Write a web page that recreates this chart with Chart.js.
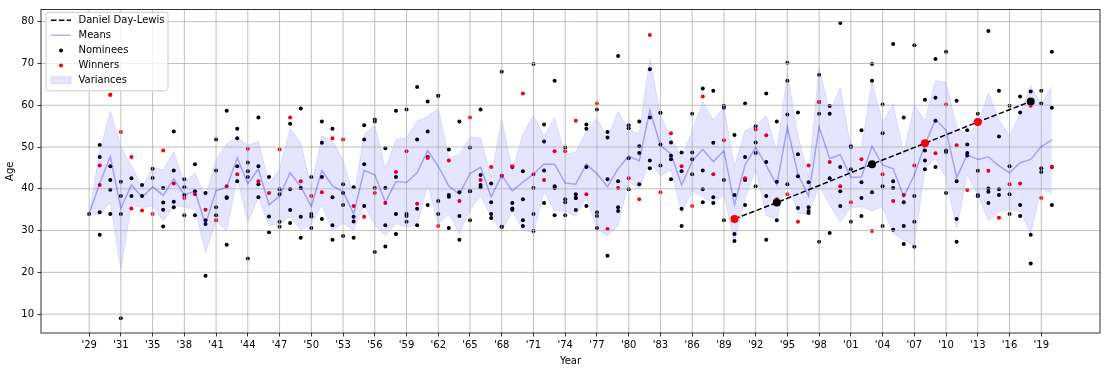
<!DOCTYPE html>
<html>
<head>
<meta charset="utf-8">
<script src="https://cdn.jsdelivr.net/npm/chart.js@4.4.1/dist/chart.umd.min.js"></script>
<style>
  html, body { margin: 0; padding: 0; background: #fff; }
  #wrap { width: 1108px; height: 371px; }
</style>
</head>
<body>
<div id="wrap"><canvas id="chart" width="1108" height="371"></canvas></div>
<script>
// x tick labels, one for every third ceremony (index 0, 3, 6, ...)
const tickLabels = ["'29","'31","'35","'38","'41","'44","'47","'50","'53","'56","'59","'62","'65","'68","'71","'74",
    "'77","'80","'83","'86","'89","'92","'95","'98","'01","'04","'07","'10","'13","'16","'19"];
const ageTicks = [10, 20, 30, 40, 50, 60, 70, 80];

// ages of the nominees who did not win, one list per ceremony
const nominees = [
    [34.0], [50.5, 47.6, 34.4, 29.0], [45.4, 42.1, 39.8, 34.0], [41.7, 38.3, 34.0, 9.0], [42.5, 38.3],
    [40.9, 38.3], [44.8, 42.6], [40.2, 36.7, 35.0, 31.0], [53.7, 44.4, 36.9, 35.6], [42.3, 40.4, 38.5, 33.7],
    [45.9, 39.4, 33.7], [39.0, 32.5, 31.6, 19.2], [51.8, 44.4, 35.6, 33.7], [58.7, 38.0, 37.8, 26.6], [54.4, 52.1, 45.4, 41.8],
    [46.3, 44.2, 42.8, 23.3], [57.1, 45.4, 41.1, 38.0], [42.8, 33.4, 29.6], [39.9, 38.7, 32.1, 30.9], [55.6, 39.9, 34.9, 31.8],
    [59.2, 40.2, 33.3, 28.3], [42.8, 34.0, 33.4, 30.6], [56.1, 51.0, 42.8, 32.8], [54.4, 38.0, 31.3, 27.8], [41.1, 39.0, 36.1, 28.7],
    [40.4, 33.3, 32.2, 28.3], [55.2, 51.8, 45.9, 35.9], [56.6, 56.1, 40.2, 24.9], [49.7, 40.2, 31.3, 26.2], [58.7, 42.8, 34.0, 29.2],
    [59.0, 34.0, 33.5, 32.1], [64.4, 51.8, 35.2, 31.3], [60.9, 53.7, 47.6, 36.1], [62.3, 62.3, 37.1, 34.0], [49.4, 38.5, 38.1, 30.6],
    [56.1, 39.2, 33.5, 27.8], [49.9, 39.4, 39.4, 32.5], [59.0, 43.3, 40.9, 40.4], [41.3, 36.8, 34.0, 33.0], [68.0, 43.1, 30.9, 30.9],
    [45.2, 36.6, 35.3, 35.0], [44.2, 37.5, 32.5, 31.1], [69.9, 40.2, 34.0, 29.9], [55.4, 51.3, 44.4, 36.6], [65.9, 40.6, 40.2, 33.7],
    [49.9, 37.5, 36.8, 33.7], [38.7, 37.8, 37.8, 34.9], [55.4, 54.4, 45.2, 35.9], [59.0, 34.4, 33.5, 30.6], [53.6, 52.3, 42.3, 24.0],
    [71.8, 41.8, 35.6, 34.7], [55.2, 54.5, 47.3, 39.9], [56.1, 50.2, 48.6, 41.1], [68.6, 57.1, 46.8, 44.9], [58.2, 58.2, 50.6, 45.6],
    [51.1, 47.9, 47.1, 42.3], [48.7, 44.2, 35.2, 31.1], [58.0, 48.7, 47.1, 43.5], [64.0, 44.4, 39.9, 36.8], [63.5, 51.0, 38.0, 36.6],
    [59.9, 59.4, 42.1, 32.5], [52.9, 38.5, 29.2, 27.5], [60.4, 47.6, 42.1, 36.1], [55.0, 51.1, 48.6, 40.6], [62.8, 46.4, 38.3, 27.8],
    [56.1, 41.7, 36.7, 32.5], [70.2, 65.9, 57.8, 41.1], [58.3, 48.3, 43.0, 35.4], [41.6, 35.6, 34.7, 34.2], [67.3, 60.8, 58.0, 27.3],
    [59.8, 58.0, 42.5, 29.4], [79.7, 45.2, 39.4, 35.9], [50.2, 50.0, 44.7, 32.1], [54.0, 41.6, 37.8, 33.5], [69.9, 65.9, 45.9, 39.2],
    [60.2, 53.3, 40.6, 31.1], [74.7, 41.8, 40.2, 30.2], [57.1, 36.8, 31.1, 26.8], [74.4, 38.3, 32.1, 26.1], [61.3, 49.2, 46.8, 44.7],
    [71.1, 61.8, 56.3, 45.2], [72.8, 49.2, 48.8, 39.0], [61.1, 41.8, 32.8, 27.3], [54.0, 50.6, 48.6, 48.0], [58.0, 44.3, 38.5, 38.2],
    [77.8, 40.1, 39.3, 36.6], [63.5, 52.5, 39.9, 38.5], [59.9, 45.4, 38.7, 34.0], [62.1, 58.3, 36.1, 33.5], [63.3, 60.9, 29.0, 22.1],
    [63.5, 60.4, 44.9, 44.0], [72.8, 59.4, 45.2, 36.1]
];

// ages of the winners, one list per ceremony
const winners = [
    [], [45.6, 40.9], [62.5, 62.5], [53.6], [47.6, 35.3], [34.8], [34.0], [49.2], [41.3], [37.8],
    [38.7], [35.0], [32.5], [40.6], [43.5], [49.6], [41.8], [39.0], [49.4], [57.1],
    [41.8], [38.3], [39.2], [52.1], [51.8], [35.9], [33.3], [39.0], [36.6], [44.0],
    [49.0], [36.4], [47.4], [31.1], [46.8], [37.1], [57.1], [42.1], [45.2], [43.1],
    [45.4], [62.8], [43.5], [42.1], [49.0], [49.0], [56.3], [38.7], [60.4], [30.4],
    [40.2], [42.5], [37.5], [76.8], [39.2], [53.3], [45.4], [35.9], [62.1], [43.5],
    [51.6], [32.8], [42.5], [54.2], [52.8], [37.5], [38.7], [32.1], [45.6], [60.8],
    [46.4], [40.6], [36.8], [47.1], [29.9], [43.5], [37.1], [38.5], [45.6], [50.9],
    [48.5], [60.2], [50.4], [39.7], [56.0], [44.3], [33.1], [41.1], [41.3], [59.9],
    [37.8], [45.2]
];

// Daniel Day-Lewis nominations: ceremony index, age, won?
const ddlCeremony = [61, 65, 74, 79, 84, 89];
const ddlAge = [32.8, 36.7, 45.9, 50.9, 56.0, 60.9];
const ddlWon = [true, false, false, true, true, false];

const allAges = nominees.map((n, i) => n.concat(winners[i]));
const means = allAges.map(a => a.reduce((s, v) => s + v, 0) / a.length);
const spreads = allAges.map((a, i) => Math.sqrt(a.reduce((s, v) => s + (v - means[i]) ** 2, 0) / a.length));

const FONT = '"DejaVu Sans", sans-serif';
const BLUE_FILL = 'rgba(0,0,255,0.1)';
const BLUE_LINE = 'rgba(0,0,255,0.3)';

// matplotlib draws the grid over the scatter and band but under the lines
const gridPlugin = {
    id: 'mplGrid',
    beforeDatasetDraw(chart, args) {
        if (chart.data.datasets[args.index].label !== 'Means') return;
        const {ctx, chartArea: a, scales: {x, y}} = chart;
        ctx.save();
        ctx.strokeStyle = '#b0b0b0';
        ctx.lineWidth = 0.8;
        ctx.beginPath();
        x.ticks.forEach(t => {
            const px = x.getPixelForValue(t.value);
            ctx.moveTo(px, a.top); ctx.lineTo(px, a.bottom);
        });
        y.ticks.forEach(t => {
            const py = y.getPixelForValue(t.value);
            ctx.moveTo(a.left, py); ctx.lineTo(a.right, py);
        });
        ctx.stroke();
        ctx.restore();
    },
    afterDatasetsDraw(chart) {
        const {ctx, chartArea: a} = chart;
        ctx.save();
        ctx.strokeStyle = '#000';
        ctx.lineWidth = 0.8;
        ctx.strokeRect(a.left, a.top, a.right - a.left, a.bottom - a.top);
        ctx.restore();
    }
};

const legendPlugin = {
    id: 'mplLegend',
    afterDraw(chart) {
        const ctx = chart.ctx;
        const bx = 46, by = 12.3, bw = 122, bh = 78.5;
        ctx.save();
        ctx.beginPath();
        ctx.roundRect(bx, by, bw, bh, 2.5);
        ctx.fillStyle = 'rgba(255,255,255,0.8)';
        ctx.fill();
        ctx.strokeStyle = '#cccccc';
        ctx.lineWidth = 1;
        ctx.stroke();

        const rows = [20.2, 35.2, 50.4, 65.4, 80.2];
        const hx1 = 51, hx2 = 71, tx = 78.5;

        ctx.strokeStyle = '#000';
        ctx.lineWidth = 1.5;
        ctx.setLineDash([5.5, 2.4]);
        ctx.beginPath(); ctx.moveTo(hx1, rows[0]); ctx.lineTo(hx2, rows[0]); ctx.stroke();
        ctx.setLineDash([]);

        ctx.strokeStyle = BLUE_LINE;
        ctx.beginPath(); ctx.moveTo(hx1, rows[1]); ctx.lineTo(hx2, rows[1]); ctx.stroke();

        ctx.fillStyle = '#000';
        ctx.beginPath(); ctx.arc(61, rows[2], 2, 0, Math.PI * 2); ctx.fill();
        ctx.fillStyle = '#ff0000';
        ctx.beginPath(); ctx.arc(61, rows[3], 2, 0, Math.PI * 2); ctx.fill();

        ctx.fillStyle = BLUE_FILL;
        ctx.strokeStyle = BLUE_FILL;
        ctx.lineWidth = 1;
        ctx.fillRect(hx1, rows[4] - 3.5, hx2 - hx1, 7);
        ctx.strokeRect(hx1, rows[4] - 3.5, hx2 - hx1, 7);

        ctx.fillStyle = '#000';
        ctx.font = '10px ' + FONT;
        ctx.textBaseline = 'middle';
        ['Daniel Day-Lewis', 'Means', 'Nominees', 'Winners', 'Variances']
            .forEach((t, i) => ctx.fillText(t, tx, rows[i]));
        ctx.restore();
    }
};

const nomineePoints = nominees.flatMap((ages, i) => ages.map(y => ({x: i, y})));
const winnerPoints = winners.flatMap((ages, i) => ages.map(y => ({x: i, y})));

new Chart(document.getElementById('chart'), {
    type: 'scatter',
    data: {
        datasets: [
            {
                label: 'Daniel Day-Lewis', type: 'line', order: 1,
                data: ddlCeremony.map((c, k) => ({x: c, y: ddlAge[k]})),
                borderColor: '#000', borderWidth: 1.5, borderDash: [5.5, 2.4],
                pointRadius: 4, pointBorderWidth: 0,
                pointBackgroundColor: ddlWon.map(w => w ? '#ff0000' : '#000'),
                fill: false
            },
            {
                label: 'Means', type: 'line', order: 2,
                data: means.map((m, i) => ({x: i, y: m})),
                borderColor: BLUE_LINE, borderWidth: 1.5, pointRadius: 0, fill: false
            },
            {
                label: 'upper', type: 'line', order: 3,
                data: means.map((m, i) => ({x: i, y: m + spreads[i]})),
                borderColor: BLUE_FILL, borderWidth: 1, pointRadius: 0,
                backgroundColor: BLUE_FILL, fill: '+1'
            },
            {
                label: 'lower', type: 'line', order: 3,
                data: means.map((m, i) => ({x: i, y: m - spreads[i]})),
                borderColor: BLUE_FILL, borderWidth: 1, pointRadius: 0, fill: false
            },
            {
                label: 'Winners', order: 4,
                data: winnerPoints,
                backgroundColor: '#ff0000', pointRadius: 2, pointBorderWidth: 0
            },
            {
                label: 'Nominees', order: 5,
                data: nomineePoints,
                backgroundColor: '#000', pointRadius: 2, pointBorderWidth: 0
            }
        ]
    },
    options: {
        responsive: false,
        animation: false,
        devicePixelRatio: 1,
        layout: { padding: { top: 8, right: 8, left: 0, bottom: 0 } },
        plugins: { legend: { display: false }, tooltip: { enabled: false } },
        scales: {
            x: {
                type: 'linear', min: -4.55, max: 95.55,
                afterBuildTicks: s => { s.ticks = tickLabels.map((_, k) => ({ value: k * 3 })); },
                afterFit: s => { s.height = 38; },
                ticks: {
                    callback: v => tickLabels[Math.round(v / 3)],
                    autoSkip: false, maxRotation: 0, minRotation: 0,
                    padding: 3, color: '#000', font: { family: FONT, size: 10 }
                },
                grid: { drawOnChartArea: false, tickLength: 3.5, tickColor: '#000', tickWidth: 0.8 },
                border: { display: false },
                title: { display: true, text: 'Year', color: '#000', font: { family: FONT, size: 10 }, padding: { top: 7 } }
            },
            y: {
                type: 'linear', min: 5.48, max: 82.93,
                afterBuildTicks: s => { s.ticks = ageTicks.map(v => ({ value: v })); },
                afterFit: s => { s.width = 41; },
                ticks: { padding: 3.5, color: '#000', font: { family: FONT, size: 10 } },
                grid: { drawOnChartArea: false, tickLength: 3.5, tickColor: '#000', tickWidth: 0.8 },
                border: { display: false },
                title: { display: true, text: 'Age', color: '#000', font: { family: FONT, size: 10 }, padding: { top: 4 } }
            }
        }
    },
    plugins: [gridPlugin, legendPlugin]
});
</script>
</body>
</html>
